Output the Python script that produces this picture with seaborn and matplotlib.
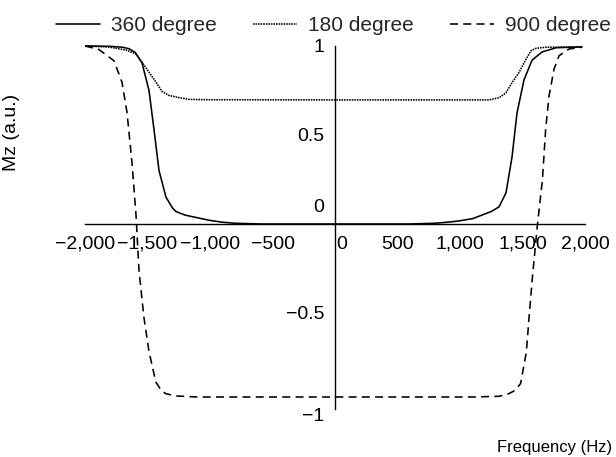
import pandas as pd
import matplotlib
matplotlib.use("Agg")
import matplotlib.pyplot as plt
import matplotlib.transforms as mtransforms
import seaborn as sns

# =============================================================================
# Datos (Mz frente a frecuencia)
# =============================================================================
FREQ_360 = [-2000, -1800, -1700, -1650, -1600, -1544, -1488, -1448, -1408,
            -1352, -1300, -1272, -1200, -1088, -1000, -900, -800, -600, 0,
            600, 800, 900, 1000, 1100, 1176, 1250, 1312, 1368, 1416, 1456,
            1512, 1576, 1656, 1768, 1976]
MZ_360 = [1.0, 0.998, 0.993, 0.985, 0.965, 0.905, 0.75, 0.53, 0.30,
          0.15, 0.09, 0.07, 0.05, 0.033, 0.02, 0.01, 0.004, 0.0, 0.0,
          0.0, 0.004, 0.01, 0.018, 0.03, 0.05, 0.07, 0.096, 0.175, 0.376,
          0.624, 0.81, 0.92, 0.966, 0.99, 0.995]

FREQ_180 = [-2000, -1808, -1672, -1592, -1544, -1488, -1432, -1384, -1328,
            -1248, -1168, -1000, 0, 1000, 1232, 1312, 1368, 1416, 1472,
            1528, 1568, 1608, 1688, 1976]
MZ_180 = [1.0, 0.994, 0.977, 0.955, 0.909, 0.853, 0.796, 0.745, 0.722,
          0.71, 0.70, 0.698, 0.697, 0.697, 0.697, 0.709, 0.737, 0.794, 0.851,
          0.926, 0.973, 0.987, 0.993, 0.995]

FREQ_900 = [-2000, -1888, -1768, -1704, -1664, -1624, -1592, -1568, -1528,
            -1488, -1434, -1390, -1354, -1274, -1100, 0, 1100, 1312, 1360,
            1392, 1440, 1485, 1531, 1552, 1579, 1620, 1659, 1685, 1712, 1752,
            1792, 1872, 1976]
MZ_900 = [1.0, 0.98, 0.917, 0.796, 0.626, 0.343, 0.05, -0.263, -0.528,
          -0.717, -0.887, -0.935, -0.953, -0.966, -0.972, -0.972, -0.972,
          -0.968, -0.96, -0.953, -0.935, -0.896, -0.717, -0.528, -0.301, 0.0,
          0.246, 0.53, 0.718, 0.87, 0.945, 0.983, 0.993]

SERIES = ["360 degree", "180 degree", "900 degree"]
X_TICKS = [-2000, -1500, -1000, -500, 0, 500, 1000, 1500, 2000]
X_LABELS = ["\u22122,000", "\u22121,500", "\u22121,000", "\u2212500", "0",
            "500", "1,000", "1,500", "2,000"]
Y_TICKS = [-1, -0.5, 0, 0.5, 1]
Y_LABELS = ["\u22121", "\u22120.5", "0", "0.5", "1"]


def build_frame() -> pd.DataFrame:
    parts = []
    for name, f, m in zip(SERIES, [FREQ_360, FREQ_180, FREQ_900],
                          [MZ_360, MZ_180, MZ_900]):
        parts.append(pd.DataFrame({"freq": f, "mz": m, "series": name}))
    return pd.concat(parts, ignore_index=True)


# =============================================================================
# Gráfico
# =============================================================================
sns.set_theme(style="white")
plt.rcParams["font.family"] = ["Liberation Sans", "DejaVu Sans"]

df = build_frame()

fig = plt.figure(figsize=(6.16, 4.57), dpi=100)
ax = fig.add_axes([0.138, 0.1009, 0.8117, 0.8063])

sns.lineplot(data=df, x="freq", y="mz", hue="series", style="series",
             hue_order=SERIES, style_order=SERIES,
             palette=["black"] * 3,
             dashes={"360 degree": "", "180 degree": (1.0, 0.6),
                     "900 degree": (5, 3.3)},
             linewidth=1.15, sort=False, ax=ax)

ax.set_xlim(-2000, 2000)
ax.set_ylim(-1.05, 1.02)

for side in ["top", "right"]:
    ax.spines[side].set_visible(False)
ax.spines["left"].set_position(("data", 0))
ax.spines["bottom"].set_position(("data", 0))
ax.spines["left"].set_bounds(-1.04, 1)
ax.spines["bottom"].set_bounds(-2000, 2000)
for side in ["left", "bottom"]:
    ax.spines[side].set_color("black")
    ax.spines[side].set_linewidth(1.0)

ax.set_xticks(X_TICKS)
ax.set_xticklabels(X_LABELS)
ax.set_yticks(Y_TICKS)
ax.set_yticklabels(Y_LABELS)
ax.tick_params(axis="both", direction="out", length=5.5, width=1.0,
               color="black", labelsize=14, labelcolor="black")
ax.tick_params(axis="x", pad=3)
ax.tick_params(axis="y", pad=2)

ax.set_xlabel("Frequency (Hz)", fontsize=12, color="black", ha="right")
ax.set_ylabel("Mz (a.u.)", fontsize=14, color="black")
ax.xaxis.set_label_coords(1.054, -0.079)
ax.yaxis.set_label_coords(-0.13, 0.757)

# desplazar algunas etiquetas como en el original
fig.canvas.draw()
shifts = {("y", 0): (0, 0.18), ("y", -1): (0, -0.13), ("x", 0): (0.07, 0)}
for axis_name, axis in [("x", ax.xaxis), ("y", ax.yaxis)]:
    for tick in axis.get_major_ticks():
        key = (axis_name, tick.get_loc())
        if key in shifts:
            dx, dy = shifts[key]
            off = mtransforms.ScaledTranslation(dx, dy, fig.dpi_scale_trans)
            tick.label1.set_transform(tick.label1.get_transform() + off)

sns.move_legend(ax, "center", bbox_to_anchor=(0.497, 1.046), ncol=3,
                frameon=False, title=None, fontsize=15, handlelength=2.07,
                handletextpad=0.53, columnspacing=1.78)

fig.savefig("out.png", dpi=100)
plt.close(fig)
